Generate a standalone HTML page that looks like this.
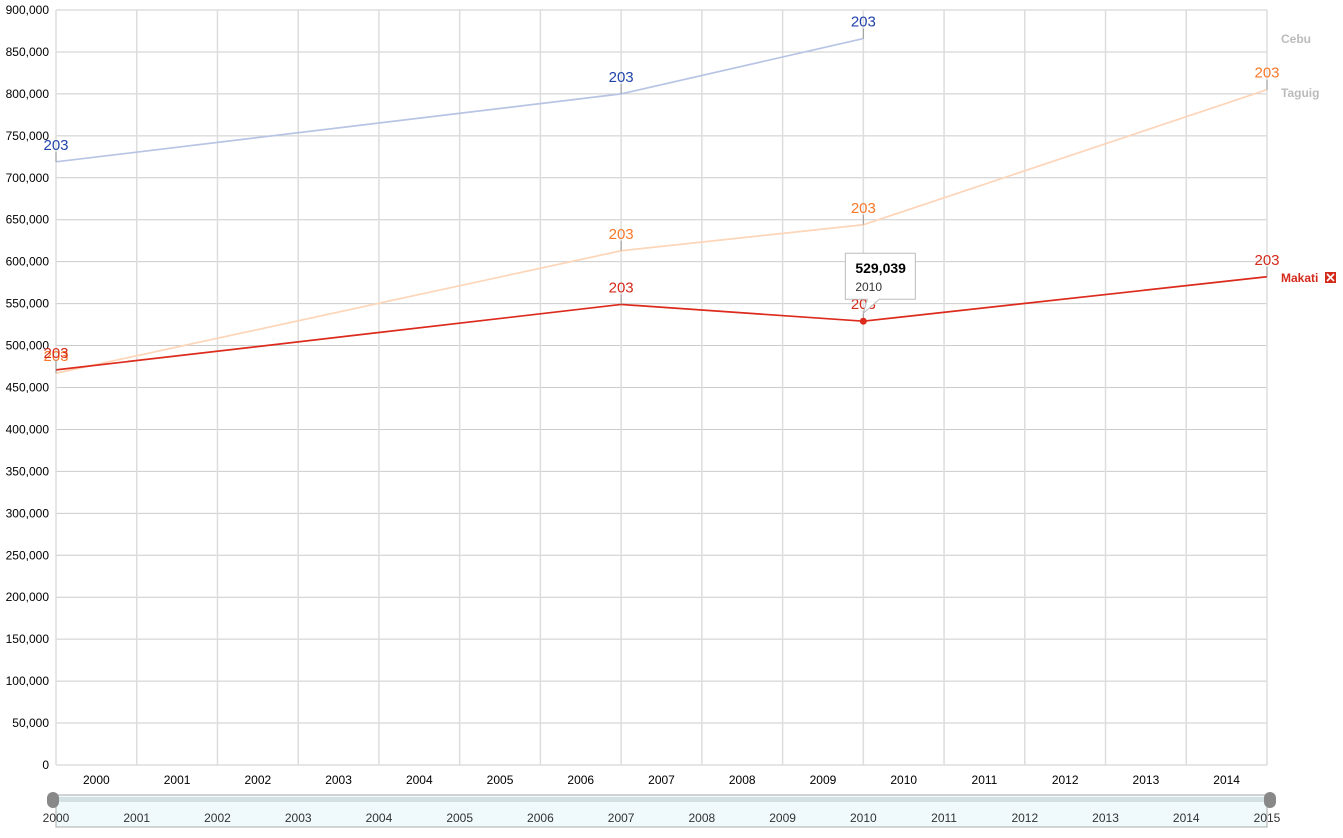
<!DOCTYPE html>
<html><head><meta charset="utf-8"><style>
body{margin:0;background:#fff;font-family:"Liberation Sans",Arial,sans-serif}
svg text{font-family:"Liberation Sans",Arial,sans-serif}
</style></head><body>
<svg id="c" width="1343" height="833"></svg>
<script>
const years=[2000,2001,2002,2003,2004,2005,2006,2007,2008,2009,2010,2011,2012,2013,2014,2015];
const yTicks=[0,50000,100000,150000,200000,250000,300000,350000,400000,450000,500000,550000,600000,650000,700000,750000,800000,850000,900000];
const cebuYears=[2000,2007,2010];
const cebuVals=[719000,800000,866000];
const taguigYears=[2000,2007,2010,2015];
const taguigVals=[467000,613000,644000,805000];
const makatiYears=[2000,2007,2010,2015];
const makatiVals=[471000,549000,529039,582000];
const NS="http://www.w3.org/2000/svg";
const svg=document.getElementById('c');
const X0=56,X1=1267,Y0=765,Y1=10;
const x=y=>X0+(y-2000)/15*(X1-X0);
const yv=v=>Y0-v/900000*(Y0-Y1);
function el(t,a,p){const e=document.createElementNS(NS,t);for(const k in a)e.setAttribute(k,a[k]);(p||svg).appendChild(e);return e;}
const grid=el('g',{});
yTicks.forEach(v=>{
 el('line',{x1:X0,x2:X1,y1:yv(v),y2:yv(v),stroke:'#ccc','stroke-width':1},grid);
 const t=el('text',{x:49,y:yv(v)+4,'text-anchor':'end','font-size':12,fill:'#000'},grid);t.textContent=v.toLocaleString('en-US');
 
});
years.forEach((yr,i)=>{
 el('line',{x1:x(yr),x2:x(yr),y1:Y1,y2:Y0,stroke:'#ddd','stroke-width':1.5},grid);
 if(i<15){const t=el('text',{x:x(yr+0.5),y:784,'text-anchor':'middle','font-size':12,fill:'#000'},grid);t.textContent=yr;
 }
});
const rs=el('g',{});
el('rect',{x:X0,y:795,width:X1-X0,height:32,fill:'#f0f9fc',stroke:'#aaa','stroke-width':1},rs);
el('rect',{x:X0,y:797,width:X1-X0,height:5,fill:'#d3e1e5'},rs);
el('rect',{x:47,y:792,width:12,height:16,rx:6,fill:'#888'},rs);
el('rect',{x:1264,y:792,width:12,height:16,rx:6,fill:'#888'},rs);
years.forEach(yr=>{const t=el('text',{x:x(yr),y:822,'text-anchor':'middle','font-size':12,fill:'#333'},rs);t.textContent=yr;});
function series(name,ys,vs,col,lblCol){
 const g=el('g',{});
 el('polyline',{points:ys.map((yr,i)=>x(yr)+','+yv(vs[i])).join(' '),fill:'none',stroke:col,'stroke-width':1.7},g);
 ys.forEach((yr,i)=>{
  const px=x(yr),py=yv(vs[i]);
  el('line',{x1:px,x2:px,y1:py,y2:py-10,stroke:'#999','stroke-width':1},g);
  const t=el('text',{x:px,y:py-12,'text-anchor':'middle','font-size':15,fill:lblCol},g);t.textContent='203';
 });
}
series('Cebu',cebuYears,cebuVals,'#b7c4e4','#2244aa');
series('Taguig',taguigYears,taguigVals,'#fdd5b8','#f7782a');
series('Makati',makatiYears,makatiVals,'#dc2a1c','#d42a1c');
const tp=el('g',{});
const px=x(makatiYears[2]),py=yv(makatiVals[2]);
el('circle',{cx:px,cy:py,r:3.5,fill:'#dc2a1c'},tp);
el('path',{d:`M${px-18} ${py-68} h70 v46 h-36 l-16 14 l4 -14 h-22 z`,fill:'#fff',stroke:'#bbb'},tp);
const t1=el('text',{x:px-8,y:py-48,'font-size':14,'font-weight':'bold'},tp);t1.textContent=makatiVals[2].toLocaleString('en-US');
const t2=el('text',{x:px-8,y:py-30,'font-size':12,fill:'#333'},tp);t2.textContent=makatiYears[2];
function leg(txt,yy,col){const t=el('text',{x:1281,y:yy,'font-size':12,'font-weight':'bold',fill:col});t.textContent=txt;
}
leg('Cebu',43,'#bbb');leg('Taguig',97,'#bbb');leg('Makati',282,'#d42a1c');
const cb=el('g',{});
el('rect',{x:1325,y:272,width:11,height:11,fill:'#d42a1c'},cb);
el('path',{d:'M1327 274 L1334 281 M1334 274 L1327 281',stroke:'#fff','stroke-width':1.6},cb);
</script>
</body></html>
